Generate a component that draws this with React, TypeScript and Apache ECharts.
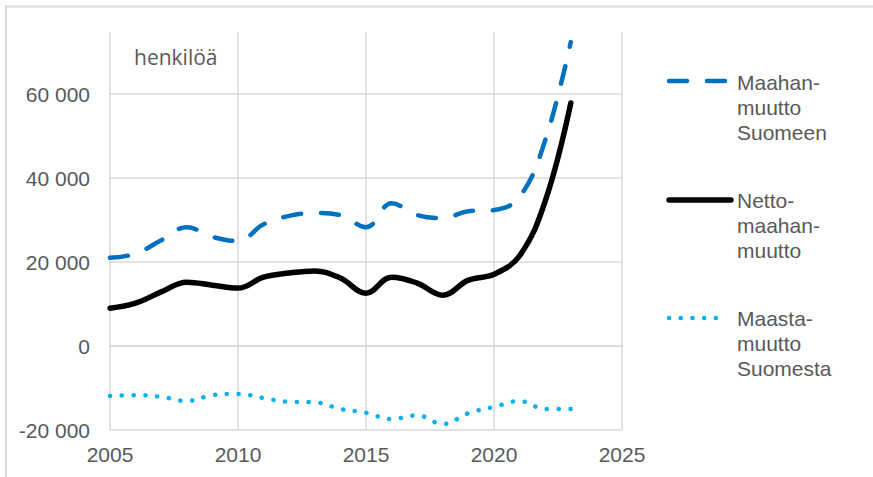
import React, { useEffect, useRef } from "react";
import * as echarts from "echarts";

const years: number[] = [2005, 2006, 2007, 2008, 2009, 2010, 2011, 2012, 2013, 2014, 2015, 2016, 2017, 2018, 2019, 2020, 2021, 2022, 2023];
const immigration: number[] = [21000, 22000, 25200, 28300, 26000, 25000, 29000, 31000, 31700, 31200, 28300, 34000, 31200, 30500, 32100, 32400, 35500, 49000, 72400];
const netMigration: number[] = [9000, 10200, 12900, 15200, 14500, 13800, 16400, 17400, 17900, 16200, 12600, 16400, 15000, 12100, 15700, 17100, 21500, 34500, 57900];
const emigration: number[] = [-11900, -11700, -12100, -13100, -11700, -11400, -12400, -13300, -13400, -15000, -15900, -17400, -16500, -18600, -16000, -14500, -13100, -15000, -15000];

const seriesNames: string[] = ["Maahan-\nmuutto\nSuomeen", "Netto-\nmaahan-\nmuutto", "Maasta-\nmuutto\nSuomesta"];
const unitLabel = "henkilöä";

const FONT = '"Liberation Sans", Arial, sans-serif';
const GRAY = "#595959";
const GRID = "#d9d9d9";

function fmt(v: number): string {
  const s = Math.abs(v).toString().replace(/\B(?=(\d{3})+(?!\d))/g, " ");
  return (v < 0 ? "-" : "") + s;
}

export default function App() {
  const ref = useRef<HTMLDivElement>(null);
  useEffect(() => {
    if (!ref.current) return;
    const chart = echarts.init(ref.current, null, { renderer: "svg" });
    const pair = (arr: number[]) => years.map((y, i) => [y, arr[i]]);
    chart.setOption({
      animation: false,
      grid: { left: 110, top: 32, right: 251, bottom: 47, containLabel: false },
      xAxis: {
        type: "value",
        min: 2005,
        max: 2025,
        interval: 5,
        axisLine: { show: true, lineStyle: { color: GRID, width: 1.5 } },
        axisTick: { show: false },
        axisLabel: { color: GRAY, fontSize: 21, fontFamily: FONT, margin: 14, formatter: (v: number) => String(v) },
        splitLine: { show: true, lineStyle: { color: GRID, width: 1.5 } },
      },
      yAxis: {
        type: "value",
        min: -20000,
        max: 74800,
        interval: 20000,
        axisLine: { show: false },
        axisTick: { show: false },
        axisLabel: {
          color: GRAY,
          fontSize: 21,
          fontFamily: FONT,
          margin: 20,
          showMaxLabel: false,
          formatter: (v: number) => (v % 20000 === 0 ? fmt(v) : ""),
        },
        splitLine: {
          show: true,
          lineStyle: { color: [GRID, GRID, GRID, GRID, GRID, "rgba(0,0,0,0)"], width: 1.5 },
        },
      },
      series: [
        {
          name: seriesNames[0],
          type: "line",
          data: pair(immigration),
          smooth: 0.4,
          showSymbol: false,
          lineStyle: { color: "#0070C0", width: 4.5, type: [18, 20], cap: "round" },
          z: 3,
        },
        {
          name: seriesNames[1],
          type: "line",
          data: pair(netMigration),
          smooth: 0.4,
          showSymbol: false,
          lineStyle: { color: "#000000", width: 5.5, cap: "round" },
          z: 4,
        },
        {
          name: seriesNames[2],
          type: "line",
          data: pair(emigration),
          smooth: 0.4,
          showSymbol: false,
          lineStyle: { color: "#00B0F0", width: 4.5, type: [0.1, 11.7], cap: "round" },
          z: 3,
        },
      ],
      graphic: [
        {
          type: "rect",
          shape: { x: 6, y: 6.5, width: 900, height: 500 },
          style: { fill: "none", stroke: GRID, lineWidth: 2 },
          silent: true,
        },
        {
          type: "text",
          style: { text: unitLabel, x: 134, y: 57, font: '21px "Open Sans", sans-serif', fill: GRAY, verticalAlign: "middle" },
        },
        {
          type: "line",
          shape: { x1: 669, y1: 81, x2: 729, y2: 81 },
          style: { stroke: "#0070C0", lineWidth: 4.5, lineDash: [18, 20], lineCap: "round" },
        },
        {
          type: "line",
          shape: { x1: 669, y1: 200, x2: 731, y2: 200 },
          style: { stroke: "#000000", lineWidth: 5.5, lineCap: "round" },
        },
        {
          type: "line",
          shape: { x1: 669, y1: 318, x2: 727, y2: 318 },
          style: { stroke: "#00B0F0", lineWidth: 4.5, lineDash: [0.1, 11.6], lineCap: "round" },
        },
        {
          type: "text",
          style: { text: seriesNames[0], x: 737, y: 69.5, font: `21px ${FONT}`, fill: GRAY, lineHeight: 25, verticalAlign: "top" },
        },
        {
          type: "text",
          style: { text: seriesNames[1], x: 737, y: 187.5, font: `21px ${FONT}`, fill: GRAY, lineHeight: 25, verticalAlign: "top" },
        },
        {
          type: "text",
          style: { text: seriesNames[2], x: 737, y: 305.5, font: `21px ${FONT}`, fill: GRAY, lineHeight: 25, verticalAlign: "top" },
        },
      ],
    });
    return () => chart.dispose();
  }, []);
  return <div ref={ref} style={{ position: "fixed", left: 0, top: 0, width: 873, height: 477, background: "#fff" }} />;
}
